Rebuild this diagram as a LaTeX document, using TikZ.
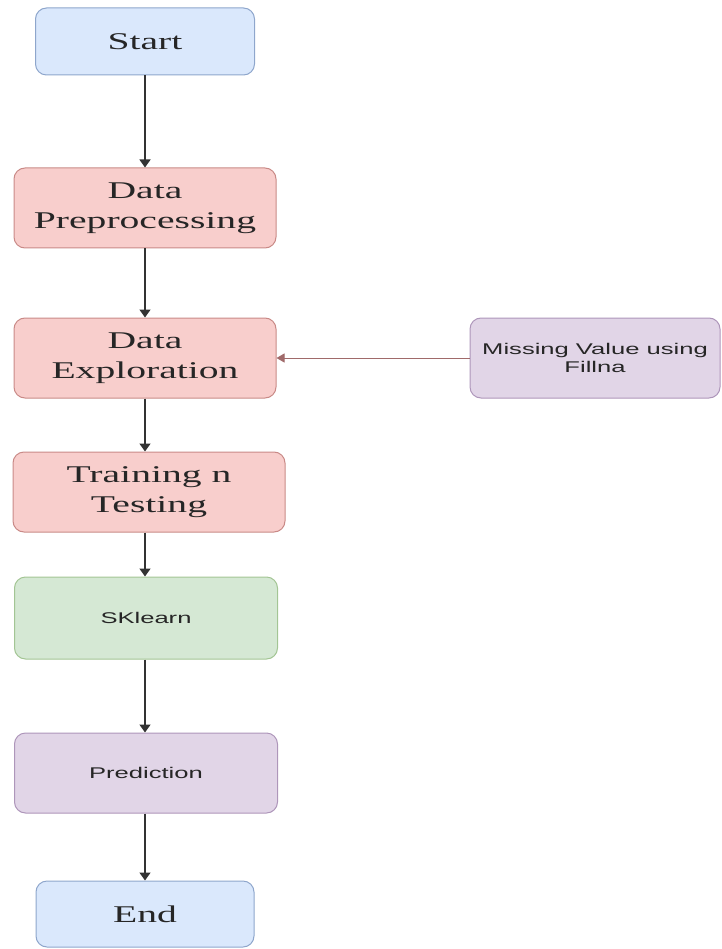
\documentclass[tikz,border=0pt]{standalone}
\usepackage{fontspec}
\setmainfont{Liberation Serif}[FakeStretch=1.65]
\setsansfont{Liberation Sans}[FakeStretch=1.65]
\usetikzlibrary{arrows.meta,positioning}

\definecolor{bluefill}{HTML}{DAE8FC}
\definecolor{bluedraw}{HTML}{8EA6CC}
\definecolor{redfill}{HTML}{F8CECC}
\definecolor{reddraw}{HTML}{C98A87}
\definecolor{greenfill}{HTML}{D5E8D4}
\definecolor{greendraw}{HTML}{A3C594}
\definecolor{purplefill}{HTML}{E1D5E7}
\definecolor{purpledraw}{HTML}{AE96BA}
\definecolor{linkred}{HTML}{A06A6A}

\tikzset{
  box/.style={draw,rounded corners=11pt,line width=1pt,align=center,inner sep=0pt,text=black!85},
  bigtext/.style={font=\fontsize{24}{30}\selectfont},
  smalltext/.style={font=\sffamily\fontsize{15.5}{18}\selectfont},
  bluebox/.style={box,bigtext,fill=bluefill,draw=bluedraw},
  redbox/.style={box,bigtext,fill=redfill,draw=reddraw},
  greenbox/.style={box,smalltext,fill=greenfill,draw=greendraw},
  purplebox/.style={box,smalltext,fill=purplefill,draw=purpledraw},
  flow/.style={line width=1.4pt,black!80,-{Triangle[width=11pt,length=8pt]}},
  sidelink/.style={line width=1pt,linkred,-{Triangle[width=9pt,length=8pt]}}
}

\begin{document}
\begin{tikzpicture}[x=1pt,y=-1pt]
    \useasboundingbox (0,0) rectangle (721,949);
    \node[bluebox,minimum width=219pt,minimum height=67pt] (start) at (145,41.5){Start};
    \node[redbox,minimum width=262pt,minimum height=80pt] (prep) at (145,208){Data\\Preprocessing};
    \node[redbox,minimum width=262pt,minimum height=80pt] (explore) at (145,358){Data\\Exploration};
    \node[purplebox,minimum width=250pt,minimum height=80pt] (fillna) at (595,358){Missing Value using\\Fillna};
    \node[redbox,minimum width=272pt,minimum height=80pt] (train) at (149,492){Training n\\Testing};
    \node[greenbox,minimum width=263pt,minimum height=82pt] (sklearn) at (146,618){SKlearn};
    \node[purplebox,minimum width=263pt,minimum height=80pt] (predict) at (146,773){Prediction};
    \node[bluebox,minimum width=218pt,minimum height=66pt] (end) at (145,914){End};
    % main flow
    \draw[flow](start)--(prep);
    \draw[flow](prep)--(explore);
    \draw[flow](explore.south -| start)--(train.north -| start);
    \draw[flow](train.south -| start)--(sklearn.north -| start);
    \draw[flow](sklearn.south -| start)--(predict.north -| start);
    \draw[flow](predict.south -| start)--(end);
    \draw[sidelink](fillna)--(explore);
\end{tikzpicture}
\end{document}
